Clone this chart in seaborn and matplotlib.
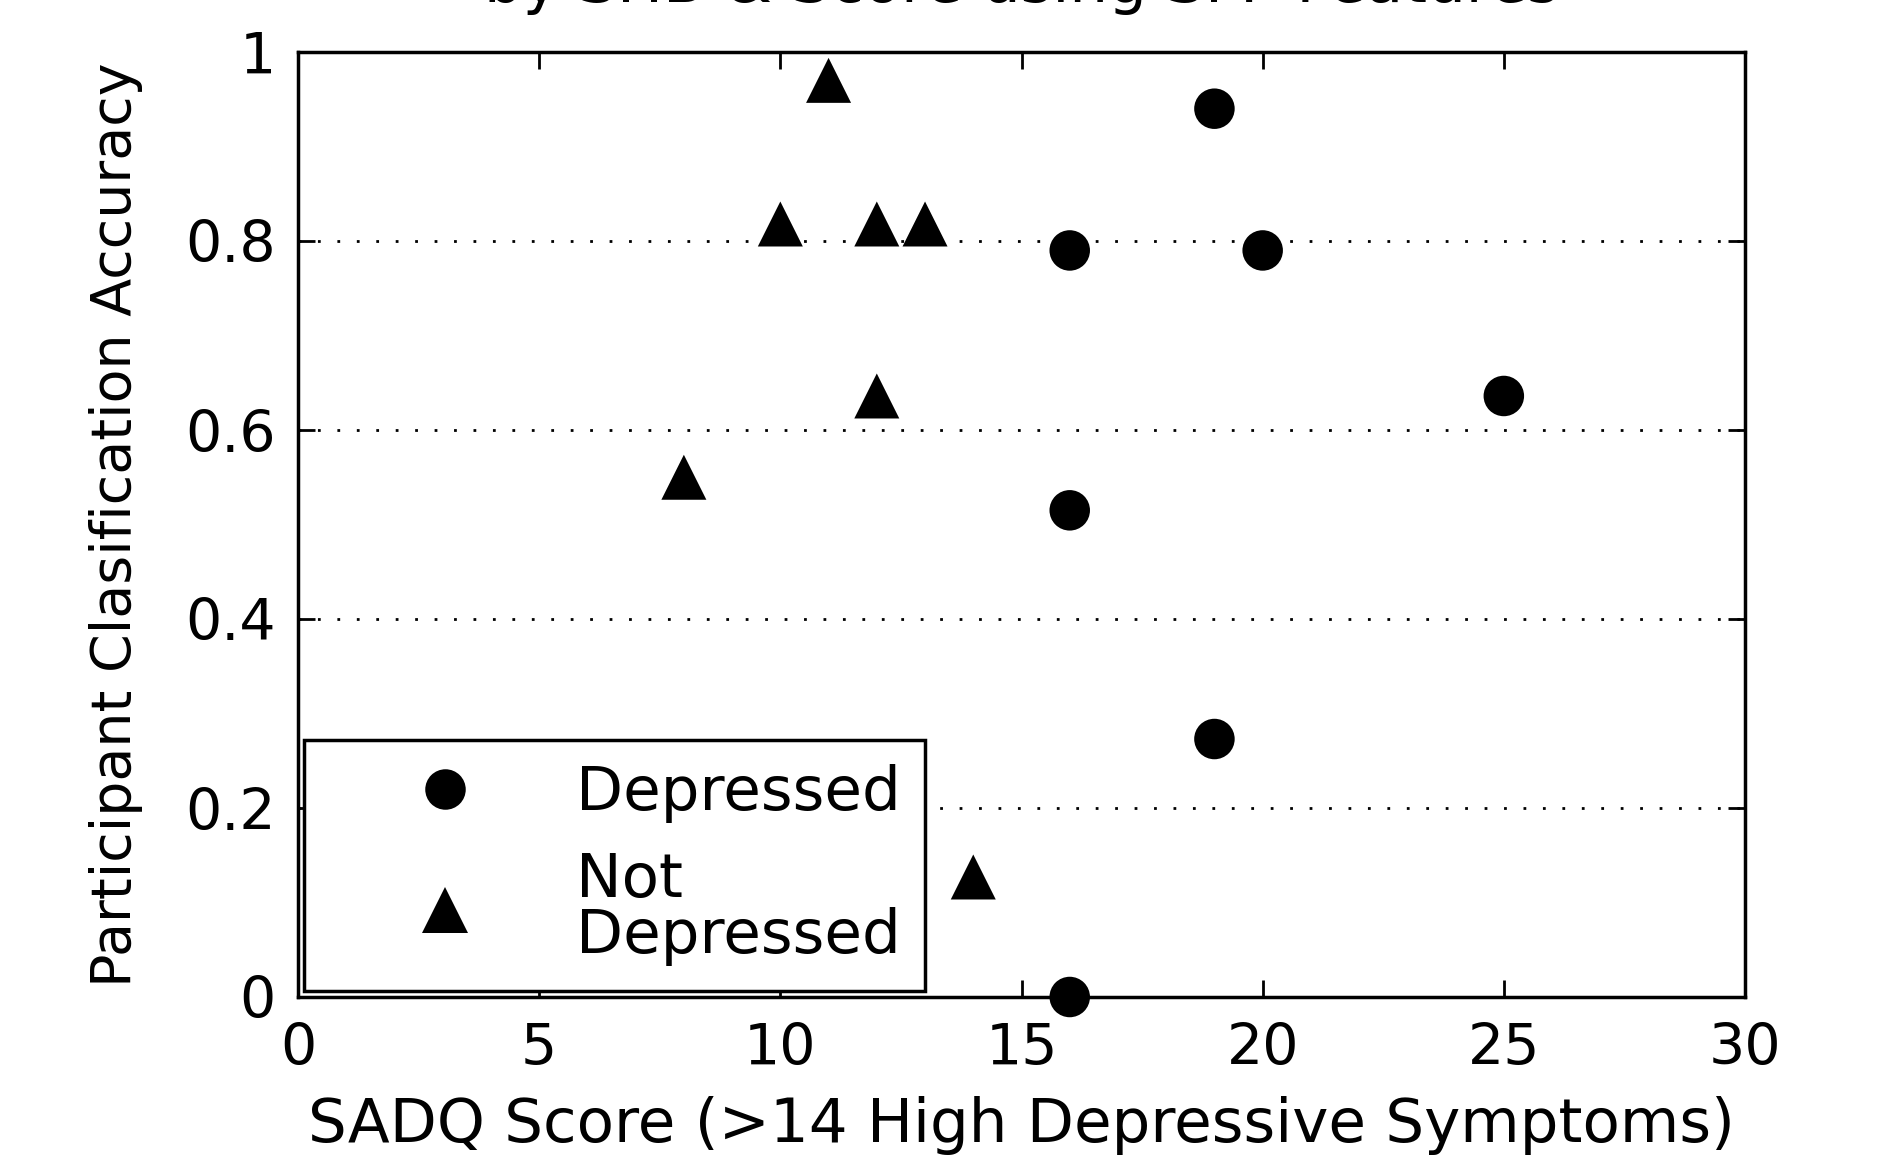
import pandas as pd
import matplotlib
matplotlib.use("Agg")
import matplotlib.pyplot as plt
import seaborn as sns

# Data
dep_score = [19, 16, 20, 25, 16, 19, 16]
dep_acc = [0.94, 0.79, 0.79, 0.636, 0.515, 0.273, 0.0]

notdep_score = [11, 10, 12, 13, 12, 8, 14]
notdep_acc = [0.97, 0.818, 0.818, 0.818, 0.636, 0.55, 0.127]

group_labels = ["Depressed", "Not\nDepressed"]

df = pd.DataFrame({
    "score": dep_score + notdep_score,
    "acc": dep_acc + notdep_acc,
    "group": [group_labels[0]] * len(dep_score) + [group_labels[1]] * len(notdep_score),
})

sns.set_style("white")
plt.rcParams["font.family"] = ["DejaVu Sans"]
plt.rcParams["text.color"] = "black"
plt.rcParams["axes.labelcolor"] = "black"
plt.rcParams["xtick.color"] = "black"
plt.rcParams["ytick.color"] = "black"

fig = plt.figure(figsize=(18.83, 11.55), dpi=100)
ax = fig.add_axes([298 / 1883, 1 - 997 / 1155, (1745 - 298) / 1883, (997 - 52) / 1155])

sns.scatterplot(
    data=df, x="score", y="acc", style="group", hue="group", size="group",
    markers={group_labels[0]: "o", group_labels[1]: "^"},
    palette={group_labels[0]: "black", group_labels[1]: "black"},
    sizes={group_labels[0]: 850, group_labels[1]: 1050},
    edgecolor="black", linewidth=0, ax=ax, clip_on=False, zorder=3,
)

ax.set_xlim(0, 30)
ax.set_ylim(0, 1)
ax.set_xticks([0, 5, 10, 15, 20, 25, 30])
ax.set_yticks([0, 0.2, 0.4, 0.6, 0.8, 1])
ax.set_yticklabels(["0", "0.2", "0.4", "0.6", "0.8", "1"])
ax.tick_params(direction="in", length=12, width=2, labelsize=41, top=True, right=True,
               left=True, bottom=True, colors="black")
ax.tick_params(axis="y", pad=16)
ax.tick_params(axis="x", pad=18)
for sp in ax.spines.values():
    sp.set_color("black")
    sp.set_linewidth(2.5)

ax.yaxis.grid(True, linestyle=(0, (1, 6)), color="black", linewidth=2)
ax.xaxis.grid(False)
ax.set_axisbelow(True)

ax.set_xlabel("SADQ Score (>14 High Depressive Symptoms)", fontsize=44, labelpad=14,
              color="black")
ax.set_ylabel("Participant Clasification Accuracy", fontsize=40, labelpad=30,
              color="black")

fig.text(0.5 * (298 + 1745) / 1883, 1 - 2 / 1155, "by SHB & Score using SFP Features",
         ha="center", va="baseline", fontsize=44, color="black")

handles, labels = ax.get_legend_handles_labels()
leg = ax.legend(handles, labels, loc="lower left", fontsize=44, frameon=True,
                fancybox=False, edgecolor="black", borderaxespad=0.1,
                handletextpad=0.25, borderpad=0.4, labelspacing=0.45,
                handlelength=3.8)
leg.get_frame().set_linewidth(2.5)
leg.get_frame().set_alpha(1)
for t in leg.get_texts():
    t.set_linespacing(0.95)
    t.set_color("black")

fig.savefig("out.png", dpi=100)
